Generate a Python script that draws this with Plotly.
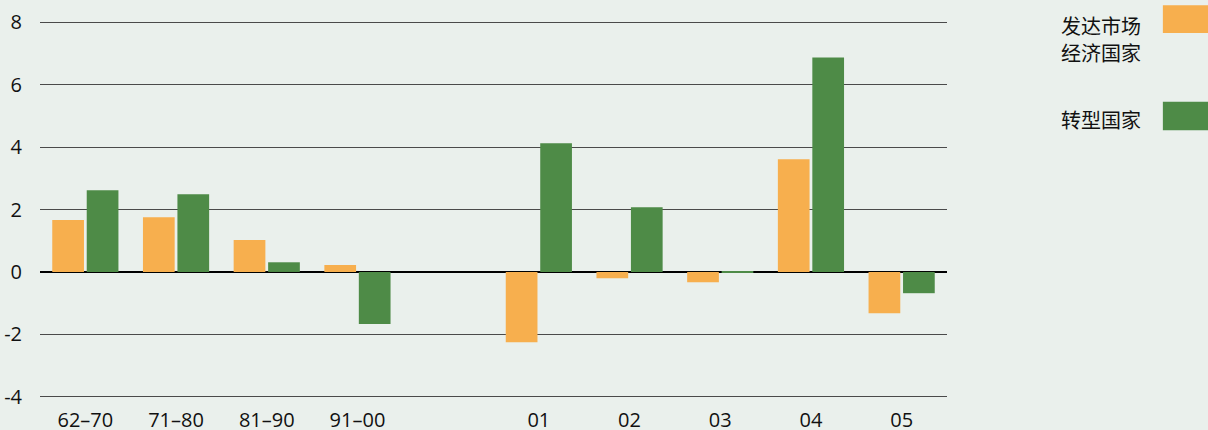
import plotly.graph_objects as go

categories = ["62–70", "71–80", "81–90", "91–00", " ", "01", "02", "03", "04", "05"]
developed = [1.66, 1.75, 1.02, 0.22, None, -2.25, -0.20, -0.33, 3.61, -1.32]
transition = [2.62, 2.49, 0.31, -1.67, None, 4.12, 2.07, -0.03, 6.87, -0.68]
y_ticks = [-4, -2, 0, 2, 4, 6, 8]
y_tick_labels = ["-4", "-2", "0", "2", "4", "6", "8"]
legend_lines_developed = ["发达市场", "经济国家"]
legend_transition = "转型国家"

BG = "#EAF0EC"
ORANGE = "#F7AF4E"
GREEN = "#4E8B47"
FONT = "Open Sans, Noto Sans CJK SC, sans-serif"
CJK = "Noto Sans CJK SC, sans-serif"

fig = go.Figure()
fig.add_trace(go.Bar(x=categories, y=developed, name="发达市场经济国家",
                     marker=dict(color=ORANGE, line=dict(width=0))))
fig.add_trace(go.Bar(x=categories, y=transition, name="转型国家",
                     marker=dict(color=GREEN, line=dict(width=0))))

fig.update_layout(
    width=1208, height=430,
    margin=dict(l=40, r=261, t=19, b=30),
    paper_bgcolor=BG, plot_bgcolor=BG,
    barmode="group", bargap=0.24, bargroupgap=0.08,
    showlegend=False,
    font=dict(family=FONT, size=20, color="#111111"),
)
fig.update_xaxes(
    type="category", categoryorder="array", categoryarray=categories,
    showgrid=False, showline=False, zeroline=False, automargin=False,
    ticks="outside", ticklen=2, tickcolor=BG,
    tickfont=dict(size=20, family=FONT),
)
fig.update_yaxes(
    range=[-4.1, 8.1], tickvals=y_ticks, ticktext=y_tick_labels,
    showgrid=True, gridcolor="#4a4a4a", gridwidth=1,
    zeroline=True, zerolinecolor="#000000", zerolinewidth=1.5,
    showline=False, automargin=False,
    ticks="outside", ticklen=13, tickcolor=BG,
    tickfont=dict(size=20, family=FONT),
)

# legend drawn to the right: text then colour box
fig.add_shape(type="rect", xref="paper", yref="paper",
              x0=1.238, x1=1.29, y0=0.963, y1=1.036,
              fillcolor=ORANGE, line=dict(width=0), layer="above")
fig.add_shape(type="rect", xref="paper", yref="paper",
              x0=1.238, x1=1.29, y0=0.708, y1=0.783,
              fillcolor=GREEN, line=dict(width=0), layer="above")
for txt, yy in zip(legend_lines_developed, [0.984, 0.911]):
    fig.add_annotation(xref="paper", yref="paper", x=1.216, y=yy,
                       text=txt, showarrow=False,
                       xanchor="right", yanchor="middle",
                       font=dict(size=20, family=CJK, color="#111111"))
fig.add_annotation(xref="paper", yref="paper", x=1.216, y=0.735,
                   text=legend_transition, showarrow=False,
                   xanchor="right", yanchor="middle",
                   font=dict(size=20, family=CJK, color="#111111"))

fig.write_html("out.html", config={"displayModeBar": False},
               post_script="document.body.style.margin='0px';")
